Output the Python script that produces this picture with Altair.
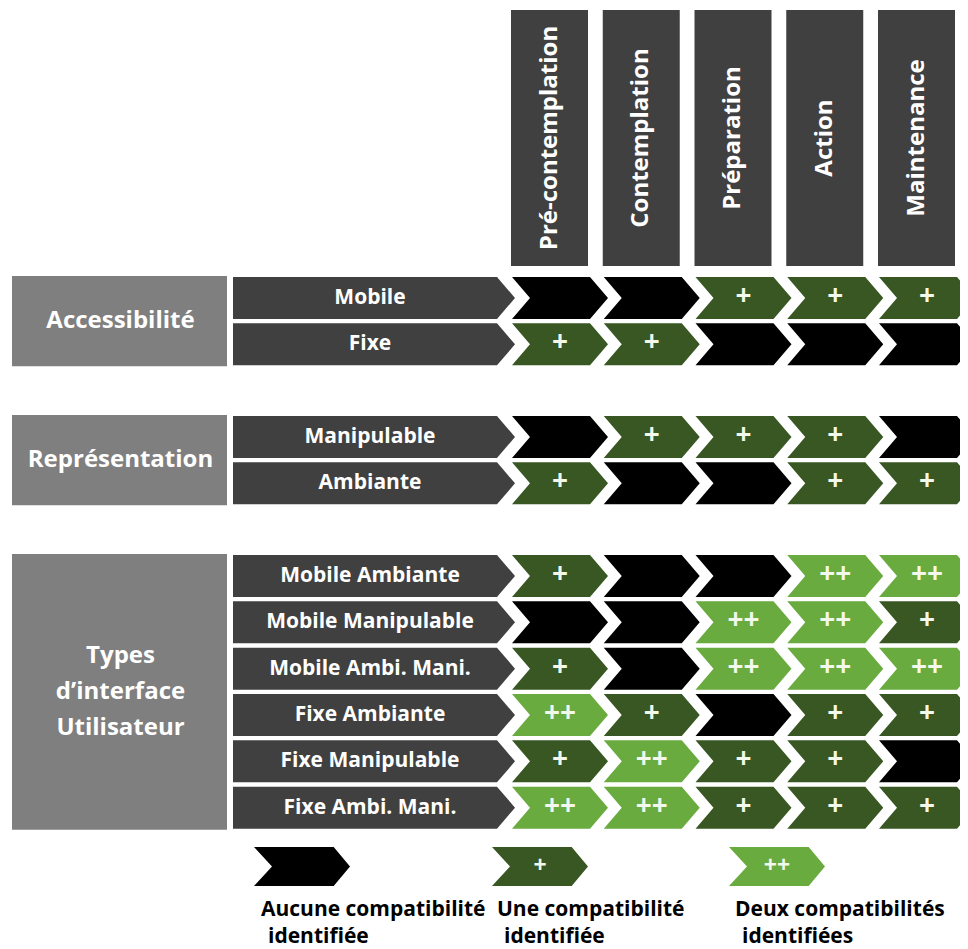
import altair as alt
import pandas as pd

# ---------------- data ----------------
stages = ["Pré-contemplation", "Contemplation", "Préparation", "Action", "Maintenance"]
groups = ["Accessibilité", "Représentation", "Types\nd’interface\nUtilisateur"]
criteria = [
    "Mobile", "Fixe",
    "Manipulable", "Ambiante",
    "Mobile Ambiante", "Mobile Manipulable", "Mobile Ambi. Mani.",
    "Fixe Ambiante", "Fixe Manipulable", "Fixe Ambi. Mani.",
]
criterion_group = [0, 0, 1, 1, 2, 2, 2, 2, 2, 2]
# 0 = aucune, 1 = une (+), 2 = deux (++) compatibilités
scores = [
    [0, 0, 1, 1, 1],
    [1, 1, 0, 0, 0],
    [0, 1, 1, 1, 0],
    [1, 0, 0, 1, 1],
    [1, 0, 0, 2, 2],
    [0, 0, 2, 2, 1],
    [1, 0, 2, 2, 2],
    [2, 1, 0, 1, 1],
    [1, 2, 1, 1, 0],
    [2, 2, 1, 1, 1],
]
levels = [0, 1, 2]
level_symbols = ["", "+", "++"]
legend_line1 = ["Aucune compatibilité", "Une compatibilité", "Deux compatibilités"]
legend_line2 = ["identifiée", "identifiée", "identifiées"]

# ---------------- layout (page pixels) ----------------
W, H = 952, 941
FONT = "'Open Sans', Lato, sans-serif"
COL_C0, COL_P = 560, 91.75
ROW_C0, ROW_P = 298, 46.33
ROW_H = 42
HEAD_TOP, HEAD_BOT, HEAD_W = 10, 266, 77
GROUP_X1, GROUP_X2 = 12, 227
GROUP_LH = 36
LABEL_CX, LABEL_W, LABEL_TX = 374, 282, 370
CELL_W = 96
LEG_Y = 866.5
LEG_CX = [302, 540, 777]
LEG_TX = [261, 497, 735]
LEG_TY = [910, 937]

COLORS = ["#000000", "#385723", "#6aab3f"]
DARK = "#404040"
GREY = "#7f7f7f"

CHEVRON = "M-1,-0.4375L0.625,-0.4375L1,0L0.625,0.4375L-1,0.4375L-0.625,0Z"
CHEVRON_LEG = "M-1,-0.406L0.66,-0.406L1,0L0.66,0.406L-1,0.406L-0.625,0Z"
PENTAGON = "M-1,-0.1489L0.8723,-0.1489L1,0L0.8723,0.1489L-1,0.1489Z"

xs = alt.Scale(domain=[8, 8 + W], nice=False, zero=False)
ys = alt.Scale(domain=[8, 8 + H], nice=False, zero=False, reverse=True)
X = lambda f: alt.X(f, type="quantitative", scale=xs, axis=None)
Y = lambda f: alt.Y(f, type="quantitative", scale=ys, axis=None)
X2 = lambda f: alt.X2(f)
Y2 = lambda f: alt.Y2(f)

slots = [i + g for i, g in enumerate(criterion_group)]
row_cy = [ROW_C0 + s * ROW_P for s in slots]
col_cx = [COL_C0 + j * COL_P for j in range(len(stages))]

# headers
head_df = pd.DataFrame({
    "stage": stages,
    "x1": [c - 49 for c in col_cx],
    "x2": [c - 49 + HEAD_W for c in col_cx],
    "y1": HEAD_TOP, "y2": HEAD_BOT,
})
head_df["xc"] = (head_df.x1 + head_df.x2) / 2
head_df["yc"] = (HEAD_TOP + HEAD_BOT) / 2

heads = alt.Chart(head_df).mark_rect(color=DARK).encode(
    x=X("x1"), x2=X2("x2"), y=Y("y1"), y2=Y2("y2"))
head_text = alt.Chart(head_df).mark_text(
    angle=270, color="white", font=FONT, fontWeight="bold", fontSize=24,
    align="center", baseline="middle").encode(x=X("xc"), y=Y("yc"), text="stage:N")

# groups
g_rows = {}
for i, g in enumerate(criterion_group):
    g_rows.setdefault(g, []).append(row_cy[i])
grp_df = pd.DataFrame({
    "group": groups,
    "y1": [min(g_rows[g]) - ROW_H / 2 - 1 for g in range(len(groups))],
    "y2": [max(g_rows[g]) + ROW_H / 2 + 1 for g in range(len(groups))],
    "x1": GROUP_X1, "x2": GROUP_X2,
})
grp_df["nl"] = [g.count("\n") for g in groups]
grp_df["xc"] = (GROUP_X1 + GROUP_X2) / 2 + 1
grp_df["yc"] = (grp_df.y1 + grp_df.y2) / 2 - grp_df.nl * GROUP_LH / 2
grp_rect = alt.Chart(grp_df).mark_rect(color=GREY).encode(
    x=X("x1"), x2=X2("x2"), y=Y("y1"), y2=Y2("y2"))
grp_text = alt.Chart(grp_df).mark_text(
    color="white", font=FONT, fontWeight="bold", fontSize=24, lineBreak="\n",
    lineHeight=GROUP_LH, align="center", baseline="middle").encode(
    x=X("xc"), y=Y("yc"), text="group:N")

# row labels
lab_df = pd.DataFrame({"criterion": criteria, "y": row_cy, "x": LABEL_CX, "tx": LABEL_TX})
lab_shape = alt.Chart(lab_df).mark_point(
    shape=PENTAGON, filled=True, opacity=1, color=DARK, strokeWidth=0,
    size=LABEL_W ** 2).encode(x=X("x"), y=Y("y"))
lab_text = alt.Chart(lab_df).mark_text(
    color="white", font=FONT, fontWeight="bold", fontSize=21,
    align="center", baseline="middle").encode(x=X("tx"), y=Y("y"), text="criterion:N")

# cells
recs = []
for i, c in enumerate(criteria):
    for j, s in enumerate(stages):
        v = scores[i][j]
        recs.append({"criterion": c, "stage": s, "score": v,
                     "sym": level_symbols[v], "x": col_cx[j], "y": row_cy[i]})
cell_df = pd.DataFrame(recs)
color_scale = alt.Scale(domain=levels, range=COLORS)
cells = alt.Chart(cell_df).mark_point(
    shape=CHEVRON, filled=True, opacity=1, strokeWidth=0, size=CELL_W ** 2).encode(
    x=X("x"), y=Y("y"),
    color=alt.Color("score:O", scale=color_scale, legend=None))
cell_text = alt.Chart(cell_df).mark_text(
    color="#f2f8ec", font=FONT, fontWeight="bold", fontSize=28,
    align="center", baseline="middle", dy=-1).encode(x=X("x"), y=Y("y"), text="sym:N")

# legend
leg_df = pd.DataFrame({"score": levels, "sym": level_symbols, "x": LEG_CX, "y": LEG_Y,
                       "l1": legend_line1, "l2": legend_line2, "tx": LEG_TX})
leg_df["tx2"] = leg_df.tx + 7
leg_df["ty1"] = LEG_TY[0]
leg_df["ty2"] = LEG_TY[1]
leg_shape = alt.Chart(leg_df).mark_point(
    shape=CHEVRON_LEG, filled=True, opacity=1, strokeWidth=0, size=CELL_W ** 2).encode(
    x=X("x"), y=Y("y"),
    color=alt.Color("score:O", scale=color_scale, legend=None))
leg_sym = alt.Chart(leg_df).mark_text(
    color="#f2f8ec", font=FONT, fontWeight="bold", fontSize=23,
    align="center", baseline="middle", dy=-1).encode(x=X("x"), y=Y("y"), text="sym:N")
leg_t1 = alt.Chart(leg_df).mark_text(
    color="black", font=FONT, fontWeight="bold", fontSize=21,
    align="left", baseline="middle").encode(x=X("tx"), y=Y("ty1"), text="l1:N")
leg_t2 = alt.Chart(leg_df).mark_text(
    color="black", font=FONT, fontWeight="bold", fontSize=21,
    align="left", baseline="middle").encode(x=X("tx2"), y=Y("ty2"), text="l2:N")

chart = alt.layer(
    heads, head_text, grp_rect, grp_text, lab_shape, lab_text,
    cells, cell_text, leg_shape, leg_sym, leg_t1, leg_t2,
).properties(
    width=W, height=H, autosize=alt.AutoSizeParams(type="none"), padding=0,
    background="white",
).configure_view(stroke=None)

chart.save("out.html", embed_options={"renderer": "svg", "actions": False})
